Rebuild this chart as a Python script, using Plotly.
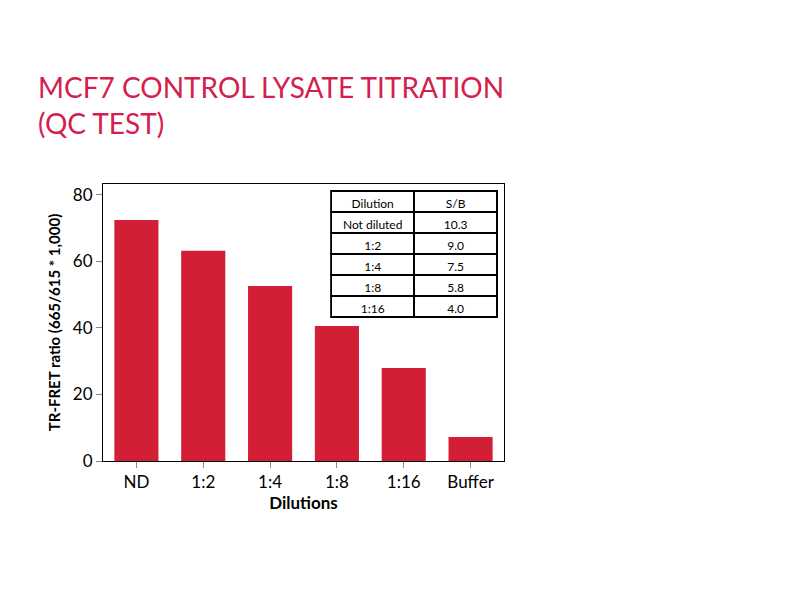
import plotly.graph_objects as go

dilutions = ["ND", "1:2", "1:4", "1:8", "1:16", "Buffer"]
ratio = [72.5, 63.2, 52.6, 40.6, 28.0, 7.2]

table_dilution = ["Not diluted", "1:2", "1:4", "1:8", "1:16"]
table_sb = ["10.3", "9.0", "7.5", "5.8", "4.0"]

font = "Lato, Noto Sans, sans-serif"

fig = go.Figure()
fig.add_trace(go.Bar(x=dilutions, y=ratio, marker_color="#d21f36",
                     marker_line_width=0, width=0.66))

fig.add_trace(go.Table(
    domain=dict(x=[0.569, 0.985], y=[0.49, 0.975]),
    columnwidth=[1, 1],
    header=dict(values=["Dilution", "S/B"], height=21, fill_color="white",
                line=dict(color="black", width=1.5),
                font=dict(family=font, size=12, color="black"), align="center"),
    cells=dict(values=[table_dilution, table_sb], height=21, fill_color="white",
               line=dict(color="black", width=1.5),
               font=dict(family=font, size=12, color="black"), align="center"),
))

fig.update_layout(
    width=800, height=600,
    paper_bgcolor="white", plot_bgcolor="white",
    margin=dict(l=95, r=304, t=176, b=147, autoexpand=False),
    showlegend=False,
    font=dict(family=font, color="black"),
    annotations=[dict(text="MCF7 CONTROL LYSATE TITRATION<br>(QC TEST)",
                      xref="paper", yref="paper", x=-0.168, y=1.42,
                      xanchor="left", yanchor="top", showarrow=False, align="left",
                      font=dict(family=font, size=28, color="#d4204d"))],
)
fig.update_xaxes(showline=True, linecolor="black", mirror=True, automargin=False,
                 ticks="outside", tickcolor="#888", ticklen=6,
                 tickfont=dict(size=17),
                 title=dict(text="<b>Dilutions</b>", font=dict(size=17), standoff=4))
fig.update_yaxes(range=[0, 83.3], dtick=20, showgrid=False, zeroline=False,
                 showline=True, linecolor="black", mirror=True, automargin=False,
                 ticks="outside", tickcolor="#888", ticklen=6,
                 tickfont=dict(size=17),
                 title=dict(text="<b>TR-FRET ratio (665/615 * 1,000)</b>",
                            font=dict(size=15), standoff=8))

fig.write_html("out.html")
